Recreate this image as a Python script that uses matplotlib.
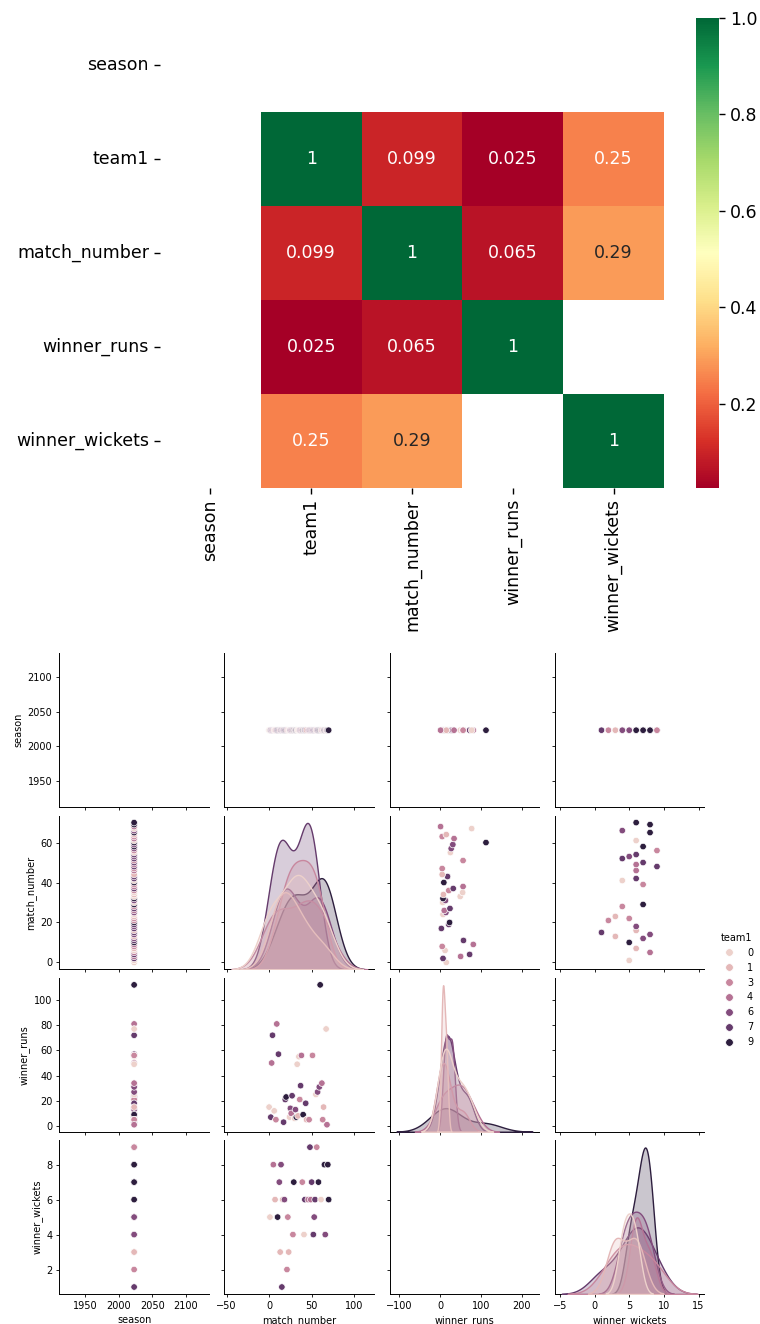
import numpy as np
import pandas as pd
import matplotlib
matplotlib.use("Agg")
import matplotlib.pyplot as plt
import seaborn as sns
from matplotlib.lines import Line2D
from matplotlib.colors import Normalize

nan = np.nan

# ---------------- data ----------------
corr_columns = ["season", "team1", "match_number", "winner_runs", "winner_wickets"]
corr_season = [nan, nan, nan, nan, nan]
corr_team1 = [nan, 1.0, 0.099, 0.025, 0.25]
corr_match_number = [nan, 0.099, 1.0, 0.065, 0.29]
corr_winner_runs = [nan, 0.025, 0.065, 1.0, nan]
corr_winner_wickets = [nan, 0.25, 0.29, nan, 1.0]

season_value = 2023

runs_match = [0, 2, 3, 4, 6, 8, 9, 11, 17, 19, 20, 24, 25, 26, 27, 30, 31, 32, 33,
              34, 35, 36, 37, 38, 40, 43, 44, 47, 51, 55, 57, 59, 60, 62, 63, 64, 67, 68]
runs_value = [15, 7, 50, 72, 12, 5, 81, 57, 3, 21, 23, 7, 14, 10, 24, 6, 13, 7, 49,
              8, 55, 21, 32, 56, 9, 18, 5, 5, 56, 25, 27, 31, 112, 34, 5, 15, 77, 1]
runs_team = [0, 7, 4, 7, 0, 3, 4, 7, 7, 7, 9, 0, 6, 4, 7, 0, 6, 9, 0,
             1, 0, 3, 7, 4, 9, 7, 1, 3, 3, 0, 6, 6, 9, 4, 3, 1, 0, 4]

wkts_match = [1, 5, 7, 10, 12, 13, 14, 15, 16, 18, 21, 22, 23, 28, 29, 39, 41, 42,
              46, 48, 49, 50, 52, 53, 54, 56, 58, 61, 65, 66, 69, 70]
wkts_value = [5, 8, 6, 5, 7, 3, 8, 1, 6, 6, 2, 5, 3, 4, 7, 7, 4, 6,
              6, 9, 6, 7, 4, 5, 6, 9, 7, 6, 8, 4, 8, 6]
wkts_team = [0, 4, 1, 9, 6, 1, 6, 7, 1, 6, 3, 3, 1, 3, 9, 3, 0, 7,
             4, 7, 4, 7, 7, 6, 7, 3, 9, 0, 9, 6, 9, 9]

legend_levels = [0, 1, 3, 4, 6, 7, 9]
pair_vars = ["season", "match_number", "winner_runs", "winner_wickets"]

# ---------------- frames ----------------
runs_df = pd.DataFrame({"season": season_value, "team1": runs_team,
                        "match_number": runs_match, "winner_runs": runs_value,
                        "winner_wickets": nan})
wkts_df = pd.DataFrame({"season": season_value, "team1": wkts_team,
                        "match_number": wkts_match, "winner_runs": nan,
                        "winner_wickets": wkts_value})
df = pd.concat([runs_df, wkts_df]).sort_values("match_number").reset_index(drop=True)
df["winner_runs"] = df["winner_runs"].astype(float)
df["winner_wickets"] = df["winner_wickets"].astype(float)

corr_df = pd.DataFrame([corr_season, corr_team1, corr_match_number,
                        corr_winner_runs, corr_winner_wickets],
                       index=corr_columns, columns=corr_columns)

W, H = 760, 1324
fig = plt.figure(figsize=(W / 100, H / 100), dpi=100)

# ---------------- heatmap ----------------
hm_ax = fig.add_axes([160 / W, 1 - 488 / H, 504 / W, 470 / H])
cax = fig.add_axes([696 / W, 1 - 488 / H, 23 / W, 470 / H])
sns.heatmap(corr_df, annot=True, cmap="RdYlGn", ax=hm_ax, cbar_ax=cax,
            annot_kws={"size": 12.5})
hm_ax.tick_params(labelsize=12.5, length=4.5, width=1)
plt.setp(hm_ax.get_yticklabels(), rotation=0)
plt.setp(hm_ax.get_xticklabels(), rotation=90)
hm_ax.set_xlabel("")
hm_ax.set_ylabel("")
cax.tick_params(labelsize=12.5, length=4.5, width=1)

# ---------------- pair plot ----------------
gs = fig.add_gridspec(4, 4, left=59.3 / W, right=704.5 / W,
                      top=1 - 653.3 / H, bottom=1 - 1294 / H,
                      wspace=0.104, hspace=0.055)
axes = np.empty((4, 4), dtype=object)
for i in range(4):
    for j in range(4):
        kw = {}
        if i > 0:
            kw["sharex"] = axes[0, j]
        if j > 0:
            kw["sharey"] = axes[i, 0]
        axes[i, j] = fig.add_subplot(gs[i, j], **kw)

hue_norm = (0, 9)
for i, yv in enumerate(pair_vars):
    for j, xv in enumerate(pair_vars):
        ax = axes[i, j]
        if i == j:
            dax = ax.twinx()
            dax.set_axis_off()
            sub = df[[xv, "team1"]].dropna()
            if sub[xv].nunique() > 1:
                sns.kdeplot(data=df, x=xv, hue="team1", hue_norm=hue_norm,
                            fill=True, warn_singular=False, legend=False,
                            linewidth=1.0, ax=dax)
        else:
            sub = df[[xv, yv]].dropna()
            if len(sub) > 0:
                sns.scatterplot(data=df, x=xv, y=yv, hue="team1", hue_norm=hue_norm,
                                s=22, linewidth=0.5, legend=False, ax=ax)
        ax.set_xlabel("")
        ax.set_ylabel("")

for i in range(4):
    for j in range(4):
        ax = axes[i, j]
        ax.spines["top"].set_visible(False)
        ax.spines["right"].set_visible(False)
        for s in ("left", "bottom"):
            ax.spines[s].set_linewidth(0.7)
        ax.tick_params(labelsize=7, length=2.5, width=0.6, pad=2.5)
        if i < 3:
            ax.tick_params(labelbottom=False)
        if j > 0:
            ax.tick_params(labelleft=False)
    axes[i, 0].set_ylabel(pair_vars[i], fontsize=7, labelpad=2.8)
    axes[3, i].set_xlabel(pair_vars[i], fontsize=7, labelpad=2.8)

cmap = sns.cubehelix_palette(as_cmap=True)
norm = Normalize(*hue_norm)
handles = [Line2D([], [], marker="o", ls="", color=cmap(norm(v)),
                  markeredgecolor="w", markeredgewidth=0.5, markersize=5.5)
           for v in legend_levels]
fig.legend(handles, [str(v) for v in legend_levels], title="team1",
           loc="center left", bbox_to_anchor=(711 / W, 1 - 990 / H),
           frameon=False, fontsize=7, title_fontsize=7)

fig.savefig("out.png", dpi=100)
